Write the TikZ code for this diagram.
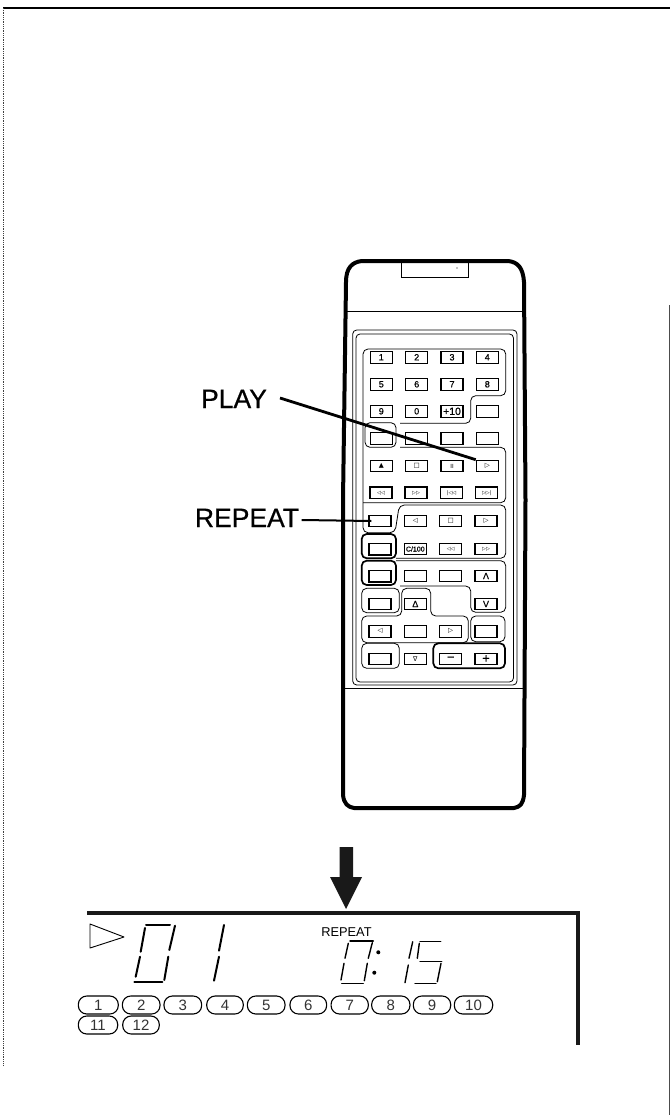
\documentclass[tikz,border=0pt]{standalone}
\usepackage{fontspec}
\setmainfont{Liberation Sans}
\newfontfamily\symfont{DejaVu Sans}
\newfontfamily\heavyfont[FakeBold=0.6]{Liberation Sans}
\newcommand{\fsz}[1]{\fontsize{#1}{#1}\selectfont}
\tikzset{
  x=1pt,y=-1pt,
  btn/.style={draw=black,line width=1.1pt,minimum width=22pt,minimum height=11.5pt,inner sep=0pt,fill=white,font=\heavyfont\fsz{9}},
  btnsym/.style={btn,font=\symfont\fsz{6.5}},
  btnthick/.style={btn,line width=1.5pt},
  grp/.style={draw=black,line width=0.8pt,rounded corners=5pt},
  grpthick/.style={draw=black,line width=1.7pt,rounded corners=5pt},
  pill/.style={draw=black,line width=1.1pt,rounded corners=8.5pt,inner sep=0pt,minimum height=18pt,font=\fsz{15},text=black!80},
  seg/.style={line width=2pt,line cap=round},
  segthin/.style={line width=1.4pt,line cap=round},
  shell/.style={draw=black,line width=4pt},
  thin/.style={draw=black,line width=0.8pt},
  leader/.style={draw=black,line width=2.8pt},
  lbl/.style={font=\heavyfont\fsz{26.5},inner sep=0pt,anchor=base}
}
\begin{document}
\begin{tikzpicture}
\useasboundingbox (0,0) rectangle (670,1115);
\fill[white] (0,0) rectangle (670,1115);
% page edge
\draw[black,line width=1.2pt] (3,8) -- (670,8);
\draw[black!75,line width=0.8pt,densely dotted] (3,8) -- (3,1066);
\draw[black!70,line width=1.2pt] (669.4,305) -- (669.4,1115);
% remote body
\draw[shell,line join=round] (346,282) .. controls (346,268) and (352,262) .. (362,261)
  -- (508,261) .. controls (518,262) and (523,268) .. (524,282)
  -- (525.5,500) -- (524,795) .. controls (523,804) and (520,807) .. (514,808)
  -- (354,808) .. controls (348,807) and (344,804) .. (343,795) -- (343,500) -- cycle;
\draw[thin] (401.7,261) -- (401.7,277.7) -- (468,277.7) -- (468,261);
\fill[black] (457,268) circle (0.7);
\draw[thin] (345,311) -- (524,311);
\draw[thin] (345,688) -- (524,688);
% panel frame
\draw[grp,rounded corners=4pt] (352.7,330) rectangle (517,685);
\draw[grp,rounded corners=4pt] (356,334) rectangle (513.5,682);
% button groups
\draw[grp] (400,423.3) -- (470.7,423.3) -- (470.7,395.7) -- (505.7,395.7) -- (505.7,349) -- (363,349) -- (363,532.7) -- (395,532.7) -- (399.3,505) -- (505.7,505) -- (505.7,558.3) -- (396,558.3);
\draw[grp] (365,422.7) rectangle (396,447.3);
\draw[grp] (400,447.3) -- (505.7,447.3) -- (505.7,502.7) -- (363,502.7);
\draw[grpthick] (361.7,534) rectangle (396,558.3);
\draw[grpthick] (361.7,560.7) rectangle (396,585);
\draw[grp] (396,560.7) -- (505.7,560.7) -- (505.7,612.3) -- (470.7,612.3) -- (470.7,586) -- (400,586);
\draw[grp] (361.7,616) -- (401.7,616) -- (401.7,588.3) -- (430.7,588.3) -- (430.7,616) -- (468.3,616) -- (468.3,642.7) -- (361.7,642.7) -- cycle;
\draw[grp] (361.7,588.3) rectangle (399.3,612.7);
\draw[grp] (470.7,616) rectangle (505,641.7);
\draw[grp] (361.7,643.3) rectangle (399.3,668.3);
\draw[grpthick] (433.3,643.3) rectangle (505,668.3);
% buttons, upper rows
\foreach \nm/\x/\y/\t in {a1/381.3/357.3/1,a2/416.7/357.3/2,a3/452/357.3/3,a4/487.3/357.3/4,
  b1/381.3/384.3/5,b2/416.7/384.3/6,b3/452/384.3/7,b4/487.3/384.3/8,
  c1/381.3/411.3/9,c2/416.7/411.3/0,c3/452/411.3/{\fsz{10.5}+10},c4/487.3/411.3/{},
  d1/381.3/438.3/{},d2/416.7/438.3/{},d3/452/438.3/{},d4/487.3/438.3/{}}
  \node[btn] (\nm) at (\x,\y) {\t};
% buttons, symbol rows
\node[btnsym] (e1) at (381.3,466) {▲};
\node[btnsym] (e2) at (416.7,466) {□};
\node[btn,font=\fsz{6}] (e3) at (452,466) {II};
\node[btnsym] (btnplay) at (487.3,466) {▷};
\node[btnsym,font=\symfont\fsz{5}] (f1) at (381,492.7) {◁◁};
\node[btnsym,font=\symfont\fsz{5}] (f2) at (416,492.7) {▷▷};
\node[btnsym,font=\symfont\fsz{5}] (f3) at (451.5,492.7) {|◁◁};
\node[btnsym,font=\symfont\fsz{5}] (f4) at (486.7,492.7) {▷▷|};
\node[btn] (btnrepeat) at (380,521) {};
\node[btnsym] (g2) at (415.3,521) {◁};
\node[btnsym] (g3) at (450.7,521) {□};
\node[btnsym] (g4) at (486,521) {▷};
\node[btnthick] (h1) at (380,549) {};
\node[btn,font=\heavyfont\fsz{7}] (h2) at (415.3,549) {C/100};
\node[btnsym,font=\symfont\fsz{5}] (h3) at (450.7,549) {◁◁};
\node[btnsym,font=\symfont\fsz{5}] (h4) at (486,549) {▷▷};
\node[btnthick] (i1) at (380,576) {};
\node[btn] (i2) at (415.3,576) {};
\node[btn] (i3) at (450.7,576) {};
\node[btn] (i4) at (486,576) {Λ};
\node[btn] (j1) at (380,604) {};
\node[btn] (j2) at (415.3,604) {Δ};
\node[btn] (j4) at (486,604) {V};
\node[btnsym] (k1) at (380,631.3) {◁};
\node[btn] (k2) at (415.3,631.3) {};
\node[btnsym] (k3) at (450.7,631.3) {▷};
\node[btn] (k4) at (486,631.3) {};
\node[btn] (l1) at (380,659) {};
\node[btnsym] (l2) at (415.3,659) {∇};
\node[btn,font=\heavyfont\fsz{13}] (l3) at (450.7,659) {−};
\node[btn,font=\heavyfont\fsz{13}] (l4) at (486,659) {+};
% labels and leaders
\node[lbl] (playlabel) at (234,408) {PLAY};
\node[lbl] (repeatlabel) at (247,527) {REPEAT};
\coordinate (playstart) at (280,398);
\coordinate (repeatstart) at (301.7,520);
\draw[leader] (playstart) -- (btnplay.north west);
\draw[leader,line width=2pt] (repeatstart) -- ([xshift=3pt]btnrepeat.west);
% big arrow
\fill[black!90] (339.5,847) -- (353,847) -- (353,877) -- (362,877) -- (346,909) -- (330,877) -- (339.5,877) -- cycle;
% display frame
\draw[black!90,line width=4pt] (87,912.7) -- (578,912.7) -- (578,1045);
\draw[black,line width=0.9pt,line join=round] (90,924) -- (124,937) -- (90,948) -- cycle;
% 0 1
\draw[seg] (146,925) -- (170,925);
\draw[seg] (145,928) -- (140.7,951.7);
\draw[seg] (140,956.7) -- (135.7,976.7);
\draw[seg] (175,925.7) -- (169.3,950);
\draw[seg] (168.3,956.7) -- (164.3,980);
\draw[seg] (134.3,981.7) -- (162.3,981.7);
\draw[seg] (224,925) -- (219,950.7);
\draw[seg] (219,956.7) -- (214,980.7);
% repeat flag
\node[inner sep=0pt,font=\fsz{12.8}] (flag) at (346.5,932.5) {REPEAT};
% 0:15
\draw[segthin] (350,941) -- (373.3,941);
\draw[segthin] (348.3,943.3) -- (345,958.3);
\draw[segthin] (344,963.3) -- (341,980);
\draw[segthin] (341.7,983.3) -- (363.3,983.3);
\draw[segthin] (372.3,942.7) -- (368.3,958.3);
\draw[segthin] (367.3,963.3) -- (364.3,980.7);
\fill (378.3,952.3) circle (2);
\fill (374.3,972.7) circle (2);
\draw[segthin] (412.7,941.7) -- (409,958.3);
\draw[segthin] (408.3,965) -- (405,982.7);
\draw[segthin] (420,941.7) -- (440.7,941.7);
\draw[segthin] (419.3,943.3) -- (417.3,958.3);
\draw[segthin] (420,961.7) -- (441.7,961.7);
\draw[segthin] (441,963.3) -- (437.3,981.7);
\draw[segthin] (415,983.3) -- (436,983.3);
% track pills
\foreach \nm/\x/\y/\w/\t in {p1/98.3/1005/40/1,p2/141.2/1005/37.7/2,p3/182.8/1005/37.7/3,p4/225/1005/36.6/4,p5/266.2/1005/37.7/5,p6/308.3/1005/36.7/6,p7/349.7/1005/37.3/7,p8/390.8/1005/38.3/8,p9/432/1005/37.4/9,p10/473.5/1005/38.4/10,p11/98/1025/39.4/11,p12/141/1025/36.6/12}
  \node[pill,minimum width=\w pt] (\nm) at (\x,\y) {\t};
\end{tikzpicture}
\end{document}
